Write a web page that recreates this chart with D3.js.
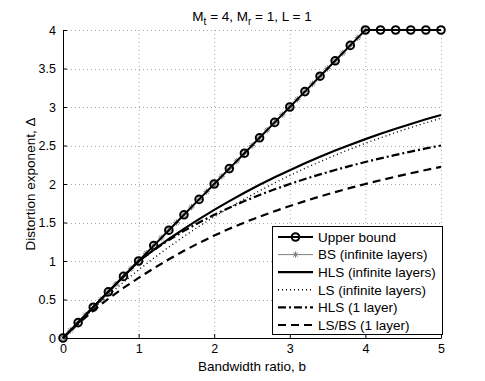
<!DOCTYPE html>
<html>
<head>
<meta charset="utf-8">
<script src="https://cdn.jsdelivr.net/npm/d3@7"></script>
<style>
  html, body { margin: 0; padding: 0; background: #fff; }
  svg { display: block; font-family: "Liberation Sans", Arial, Helvetica, sans-serif; }
</style>
</head>
<body>
<svg id="chart" width="485" height="381"></svg>
<script>
// ---------------- data ----------------
const bGrid = [0,0.2,0.4,0.6,0.8,1.0,1.2,1.4,1.6,1.8,2.0,2.2,2.4,2.6,2.8,3.0,3.2,3.4,3.6,3.8,4.0,4.2,4.4,4.6,4.8,5.0];
const upperBound = [0,0.2,0.4,0.6,0.8,1.0,1.2,1.4,1.6,1.8,2.0,2.2,2.4,2.6,2.8,3.0,3.2,3.4,3.6,3.8,4.0,4,4,4,4,4];
const bBS = [0,0.1,0.2,0.3,0.4,0.5,0.6,0.7,0.8,0.9,1.0,1.1,1.2,1.3,1.4,1.5,1.6,1.7,1.8,1.9,2.0,2.1,2.2,2.3,2.4,2.5,2.6,2.7,2.8,2.9,3.0,3.1,3.2,3.3,3.4,3.5,3.6,3.7,3.8,3.9,4.0];
const bsInfinite = [0,0.1,0.2,0.3,0.4,0.5,0.6,0.7,0.8,0.9,1.0,1.1,1.2,1.3,1.4,1.5,1.6,1.7,1.8,1.9,2.0,2.1,2.2,2.3,2.4,2.5,2.6,2.7,2.8,2.9,3.0,3.1,3.2,3.3,3.4,3.5,3.6,3.7,3.8,3.9,4.0];
const hlsInfinite = [0,0.2,0.4,0.6,0.8,1.0,1.146,1.286,1.418,1.544,1.664,1.778,1.886,1.989,2.087,2.180,2.269,2.354,2.434,2.510,2.583,2.652,2.718,2.780,2.840,2.896];
const lsInfinite = [0,0.195,0.381,0.557,0.725,0.885,1.037,1.181,1.319,1.450,1.574,1.692,1.805,1.912,2.014,2.111,2.203,2.290,2.374,2.453,2.529,2.600,2.669,2.734,2.795,2.854];
const hlsOneLayer = [0,0.2,0.4,0.6,0.8,1.0,1.143,1.273,1.391,1.500,1.600,1.692,1.778,1.857,1.931,2.000,2.065,2.125,2.182,2.235,2.286,2.333,2.378,2.421,2.462,2.500];
const lsbsOneLayer = [0,0.185,0.355,0.51,0.65,0.78,0.905,1.022,1.132,1.235,1.330,1.419,1.500,1.576,1.647,1.714,1.778,1.838,1.895,1.949,2.000,2.049,2.095,2.140,2.182,2.222];

const xTicks = [0,1,2,3,4,5];
const yTicks = [0,0.5,1,1.5,2,2.5,3,3.5,4];
const legendLabels = ["Upper bound","BS (infinite layers)","HLS (infinite layers)","LS (infinite layers)","HLS (1 layer)","LS/BS (1 layer)"];
const titleMain = ["M","t"," = 4, M","r"," = 1, L = 1"];
const xLabel = "Bandwidth ratio, b";
const yLabel = "Distortion exponent,  \u0394";

// ---------------- layout ----------------
const svg = d3.select("#chart");
const m = {left: 63, right: 441, top: 30, bottom: 338};
const x = d3.scaleLinear().domain([0,5]).range([m.left, m.right]);
const y = d3.scaleLinear().domain([0,4]).range([m.bottom, m.top]);

svg.append("rect").attr("width",485).attr("height",381).attr("fill","#fff");

// grid
const grid = svg.append("g").attr("stroke","#a8a8a8").attr("stroke-width",1).attr("stroke-dasharray","1,3").attr("fill","none");
xTicks.forEach(t => grid.append("line").attr("x1",x(t)+0.5).attr("x2",x(t)+0.5).attr("y1",m.top).attr("y2",m.bottom));
yTicks.forEach(t => grid.append("line").attr("x1",m.left).attr("x2",m.right).attr("y1",Math.round(y(t))+0.5).attr("y2",Math.round(y(t))+0.5));

// axes
const xAxis = d3.axisBottom(x).tickValues(xTicks).tickSizeInner(-4).tickSizeOuter(0).tickPadding(6).tickFormat(d3.format("d"));
const yAxis = d3.axisLeft(y).tickValues(yTicks).tickSizeInner(-4).tickSizeOuter(0).tickPadding(7).tickFormat(d => String(d));
const gx = svg.append("g").attr("transform",`translate(0,${m.bottom})`).call(xAxis);
const gy = svg.append("g").attr("transform",`translate(${m.left},0)`).call(yAxis);
[gx, gy].forEach(g => {
  g.select(".domain").attr("stroke","#000").attr("stroke-width",1);
  g.selectAll(".tick line").attr("stroke","#000");
  g.selectAll(".tick text").attr("fill","#000").attr("font-size",12.5).attr("font-family","Liberation Sans, Arial, sans-serif");
});

// ---------------- series ----------------
const line = d3.line().x(d => x(d[0])).y(d => y(d[1]));
const zip = (xs, ys) => xs.map((v,i) => [v, ys[i]]);

const plot = svg.append("g");
const starPath = r => `M${-r},0L${r},0M0,${-r}L0,${r}M${-r*0.7},${-r*0.7}L${r*0.7},${r*0.7}M${-r*0.7},${r*0.7}L${r*0.7},${-r*0.7}`;

const series = [
  {label: legendLabels[0], data: zip(bGrid, upperBound), stroke:"#000", width:2, dash:null, marker:"circle"},
  {label: legendLabels[1], data: zip(bBS, bsInfinite), stroke:"#808080", width:1, dash:null, marker:"star"},
  {label: legendLabels[2], data: zip(bGrid, hlsInfinite), stroke:"#000", width:2.2, dash:null},
  {label: legendLabels[3], data: zip(bGrid, lsInfinite), stroke:"#000", width:1.4, dash:"1,3"},
  {label: legendLabels[4], data: zip(bGrid, hlsOneLayer), stroke:"#000", width:2.2, dash:"8,3,2,3"},
  {label: legendLabels[5], data: zip(bGrid, lsbsOneLayer), stroke:"#000", width:2.2, dash:"8,5"}
];

// draw BS underneath the upper bound so the bound reads as black
const drawOrder = [1,0,2,3,4,5];
drawOrder.forEach(k => {
  const s = series[k];
  plot.append("path").attr("d", line(s.data)).attr("fill","none").attr("stroke",s.stroke)
    .attr("stroke-width",s.width).attr("stroke-dasharray",s.dash);
  if (s.marker === "circle") {
    plot.selectAll(null).data(s.data).enter().append("circle")
      .attr("cx",d => x(d[0])).attr("cy",d => y(d[1])).attr("r",3.8)
      .attr("fill","none").attr("stroke",s.stroke).attr("stroke-width",2);
  } else if (s.marker === "star") {
    plot.selectAll(null).data(s.data).enter().append("path")
      .attr("transform",d => `translate(${x(d[0])},${y(d[1])})`)
      .attr("d", starPath(3.2)).attr("stroke",s.stroke).attr("stroke-width",1).attr("fill","none");
  }
});

// ---------------- legend ----------------
const lg = svg.append("g");
const lx0 = 272, ly0 = 226, lw = 170, lh = 108, rowH = 17.6;
lg.append("rect").attr("x",lx0+0.5).attr("y",ly0+0.5).attr("width",lw).attr("height",lh)
  .attr("fill","#fff").attr("stroke","#000").attr("stroke-width",1);
series.forEach((s,i) => {
  const cy = ly0 + 11 + i*rowH;
  const g = lg.append("g");
  g.append("line").attr("x1",lx0+6).attr("x2",lx0+41).attr("y1",cy).attr("y2",cy)
    .attr("stroke",s.stroke).attr("stroke-width",s.width).attr("stroke-dasharray",s.dash);
  if (s.marker === "circle") {
    g.append("circle").attr("cx",lx0+23.5).attr("cy",cy).attr("r",3.8).attr("fill","none").attr("stroke",s.stroke).attr("stroke-width",2);
  } else if (s.marker === "star") {
    g.append("path").attr("transform",`translate(${lx0+23.5},${cy})`).attr("d",starPath(3.2)).attr("stroke",s.stroke).attr("fill","none");
  }
  g.append("text").attr("x",lx0+46).attr("y",cy).attr("dy","0.36em").attr("font-size",13.5).attr("fill","#000").text(s.label);
});

// ---------------- labels ----------------
const title = svg.append("text").attr("x",(m.left+m.right)/2).attr("y",21).attr("text-anchor","middle").attr("font-size",13.5).attr("fill","#000");
titleMain.forEach((t,i) => {
  const ts = title.append("tspan").text(t);
  if (i % 2 === 1) ts.attr("font-size",10).attr("dy",4);
  else if (i > 0) ts.attr("dy",-4);
});

svg.append("text").attr("x",(m.left+m.right)/2).attr("y",371).attr("text-anchor","middle").attr("font-size",13.5).attr("fill","#000").text(xLabel);
svg.append("text").attr("transform",`translate(35,${(m.top+m.bottom)/2}) rotate(-90)`).attr("text-anchor","middle").attr("font-size",13.5).attr("fill","#000").text(yLabel);
</script>
</body>
</html>
